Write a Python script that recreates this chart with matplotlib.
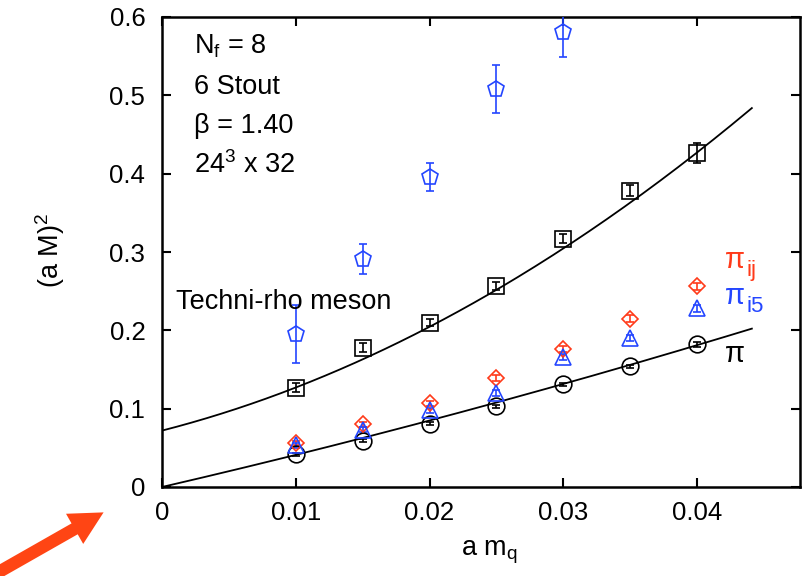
import numpy as np
import matplotlib
matplotlib.use("Agg")
import matplotlib.pyplot as plt
from matplotlib.patches import FancyArrowPatch

plt.rcParams['font.family'] = ['Liberation Sans', 'DejaVu Sans']
plt.rcParams['mathtext.fontset'] = 'custom'
plt.rcParams['mathtext.rm'] = 'Liberation Sans'
plt.rcParams['mathtext.it'] = 'Liberation Sans'
plt.rcParams['mathtext.sf'] = 'Liberation Sans'

# ---- data ----
mq = [0.01, 0.015, 0.02, 0.025, 0.03, 0.035, 0.04]

rho_x = [0.01, 0.015, 0.02, 0.025, 0.03]
rho_y = [0.195, 0.291, 0.396, 0.508, 0.581]
rho_err = [0.037, 0.019, 0.018, 0.031, 0.032]

sq_y = [0.127, 0.178, 0.210, 0.257, 0.317, 0.378, 0.426]
sq_err = [0.006, 0.006, 0.005, 0.005, 0.006, 0.007, 0.013]

pi_y = [0.042, 0.059, 0.081, 0.103, 0.131, 0.154, 0.182]
pi_err = [0.002, 0.002, 0.002, 0.002, 0.002, 0.002, 0.003]

pij_y = [0.056, 0.080, 0.107, 0.139, 0.176, 0.215, 0.256]
pij_err = [0.003, 0.003, 0.003, 0.004, 0.004, 0.004, 0.004]

pi5_y = [0.053, 0.073, 0.098, 0.120, 0.166, 0.190, 0.228]
pi5_err = [0.003, 0.003, 0.003, 0.004, 0.004, 0.004, 0.004]

# quadratic fit curves (coefficients): c0 + c1 x + c2 x^2
fit_sq = [0.072, 4.375, 112.5]
fit_pi = [0.0, 3.958, 14.2]
fit_xmax = 0.0441

RED = '#ff3a1a'
BLUE = '#2446ff'

fig = plt.figure(figsize=(8.11, 5.76), dpi=100)
ax = fig.add_axes([162/811, 1-487/576, (800-162)/811, (487-17)/576])

xx = np.linspace(0, fit_xmax, 200)
ax.plot(xx, fit_sq[0] + fit_sq[1]*xx + fit_sq[2]*xx**2, color='black', lw=1.3, zorder=2)
ax.plot(xx, fit_pi[0] + fit_pi[1]*xx + fit_pi[2]*xx**2, color='black', lw=1.3, zorder=2)

common = dict(linestyle='none', mfc='none', mew=1.2, capsize=3, elinewidth=1.2, capthick=1.2, zorder=3)
ax.errorbar(rho_x, rho_y, yerr=rho_err, marker='p', ms=12, color=BLUE, **common)
ax.errorbar(mq, sq_y, yerr=sq_err, marker='s', ms=12, color='black', **common)
ax.errorbar(mq, pi_y, yerr=pi_err, marker='o', ms=12, color='black', **common)
ax.errorbar(mq, pij_y, yerr=pij_err, marker='D', ms=8, color=RED, **common)
ax.errorbar(mq, pi5_y, yerr=pi5_err, marker='^', ms=11, color=BLUE, **common)

ax.set_xlim(0, 0.0477)
ax.set_ylim(0, 0.6)
ax.set_xticks([0, 0.01, 0.02, 0.03, 0.04])
ax.set_xticklabels(['0', '0.01', '0.02', '0.03', '0.04'])
ax.set_yticks([0, 0.1, 0.2, 0.3, 0.4, 0.5, 0.6])
ax.set_yticklabels(['0', '0.1', '0.2', '0.3', '0.4', '0.5', '0.6'])
ax.tick_params(direction='in', length=6.5, width=1.5, top=True, right=True,
               labelsize=18.5)
ax.tick_params(axis='x', pad=10)
ax.tick_params(axis='y', pad=12)
for s in ax.spines.values():
    s.set_linewidth(1.8)

fs = 19.5
ax.text(0.0024, 0.553, r'N$_\mathrm{f}$ = 8', fontsize=fs, va='baseline', ha='left')
ax.text(0.0024, 0.502, '6 Stout', fontsize=fs, va='baseline', ha='left')
ax.text(0.0024, 0.452, 'β = 1.40', fontsize=fs, va='baseline', ha='left')
ax.text(0.0024, 0.401, r'24$^\mathrm{3}$ x 32', fontsize=fs, va='baseline', ha='left')
ax.text(0.00104, 0.2268, 'Techni-rho meson', fontsize=fs, va='baseline', ha='left')

# pion labels: large π with large subscripts placed right after the π glyph
pi_fs = 21
sub_fs = 16
labels = [(0.280, RED, 'ij'), (0.234, BLUE, 'i5'), (0.159, 'black', None)]
fig.canvas.draw()
renderer = fig.canvas.get_renderer()
for yb, col, sub in labels:
    t = ax.text(0.0421, yb, 'π', fontsize=pi_fs, color=col, va='baseline', ha='left')
    if sub:
        bb = t.get_window_extent(renderer=renderer)
        x_end = ax.transData.inverted().transform((bb.x1 + 1, 0))[0]
        ax.annotate(sub, xy=(x_end, yb), xycoords='data',
                    xytext=(0, -6), textcoords='offset points',
                    fontsize=sub_fs, color=col, va='baseline', ha='left')

fig.text(50/811, 1-250/576, r'(a M)$^\mathrm{2}$', rotation=90, fontsize=fs,
         ha='center', va='center')
fig.text(489/811, 1-556/576, r'a m$_\mathrm{q}$', fontsize=fs, ha='center', va='baseline')

arrow = FancyArrowPatch((-10/811, 1-577/576), (106/811, 1-511/576),
                        transform=fig.transFigure,
                        arrowstyle='simple,head_width=1.25,head_length=1.2,tail_width=0.45',
                        mutation_scale=20, color='#ff4514', lw=0)
fig.patches.append(arrow)

fig.savefig('out.png', dpi=100)
